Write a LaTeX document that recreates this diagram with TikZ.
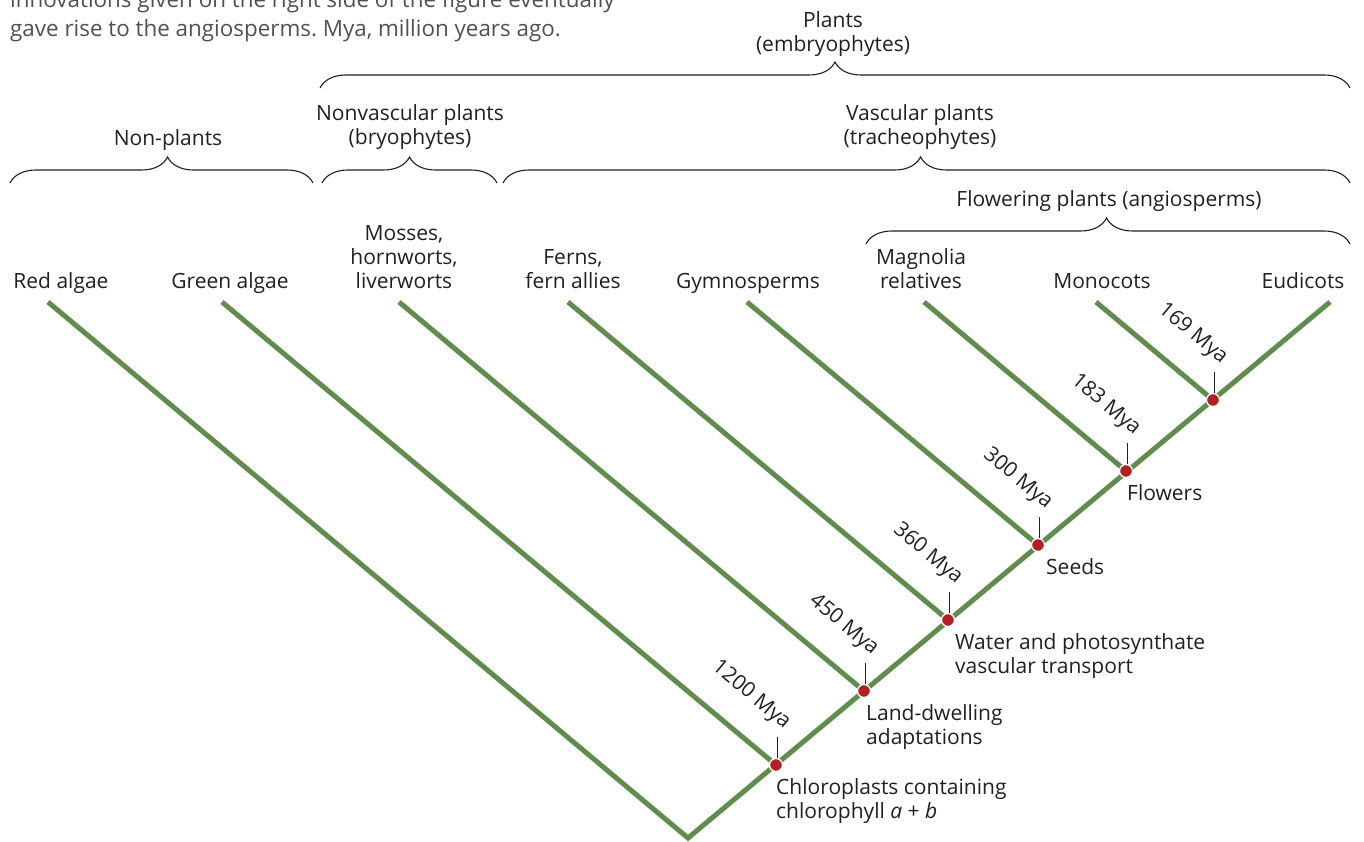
\documentclass[tikz,border=0pt]{standalone}
\usepackage{fontspec}
\setmainfont{Open Sans}
\usepackage{tikz}
\usetikzlibrary{positioning, calc, decorations.pathreplacing}
\definecolor{leafgreen}{RGB}{96,140,78}
\definecolor{seedred}{RGB}{178,32,38}
\definecolor{inkgray}{RGB}{35,31,32}
\definecolor{capgray}{RGB}{80,80,80}
\frenchspacing

\begin{document}
\begin{tikzpicture}[x=1pt, y=-1pt,
    branch/.style={draw=leafgreen, line width=5pt, line join=miter},
    event/.style={circle, fill=seedred, draw=white, line width=1.3pt, minimum size=13pt, inner sep=0pt},
    taxon/.style={anchor=base, align=center, text=inkgray, font=\fontsize{21}{24}\selectfont},
    group/.style={anchor=south, align=center, text=inkgray, font=\fontsize{21}{24}\selectfont},
    trait/.style={anchor=north west, align=left, text=inkgray, inner sep=0pt, font=\fontsize{21}{24}\selectfont},
    mya/.style={rotate=-39.9, anchor=south east, inner sep=1pt, text=inkgray, font=\fontsize{21}{24}\selectfont},
    caption/.style={anchor=base west, inner sep=0pt, text=capgray, font=\fontsize{22.4}{28}\selectfont},
    clade/.style={decorate, decoration={brace, amplitude=26pt}, draw=inkgray, line width=1.1pt},
    tick/.style={draw=inkgray, line width=1pt}
]
\useasboundingbox (0,0) rectangle (1364,842);

% Caption (cut off at the top)
\node[caption] (cap1) at (10,8) {innovations given on the right side of the figure eventually};
\node[caption] (cap2) at (10,37) {gave rise to the angiosperms. Mya, million years ago.};

% Group braces
\coordinate (plL) at (320,88);  \coordinate (plR) at (1350,88);
\coordinate (npL) at (10,183);  \coordinate (npR) at (313,183);
\coordinate (nvL) at (322,183); \coordinate (nvR) at (497,183);
\coordinate (vaL) at (503,183); \coordinate (vaR) at (1350,183);
\coordinate (flL) at (866,244); \coordinate (flR) at (1350,244);
\draw[clade] (plL) -- (plR);
\draw[clade, decoration={aspect=0.52}] (npL) -- (npR);
\draw[clade] (nvL) -- (nvR);
\draw[clade, decoration={aspect=0.493}] (vaL) -- (vaR);
\draw[clade, decoration={aspect=0.497}] (flL) -- (flR);

\node[group] (plants) at (833,60) {Plants\\(embryophytes)};
\node[group] (nonplants) at (168,154) {Non-plants};
\node[group] (nonvasc) at (410,153) {Nonvascular plants\\(bryophytes)};
\node[group] (vasc) at (920,153) {Vascular plants\\(tracheophytes)};
\node[group] (flowering) at (1109,215) {Flowering plants (angiosperms)};

% Tips
\node[taxon] (redalgae) at (61,288) {Red algae};
\node[taxon] (greenalgae) at (230,288) {Green algae};
\node[taxon] (mosses) at (404,288) {Mosses,\\hornworts,\\liverworts};
\node[taxon] (ferns) at (573,288) {Ferns,\\fern allies};
\node[taxon] (gymno) at (748,288) {Gymnosperms};
\node[taxon] (magnolia) at (921,288) {Magnolia\\relatives};
\node[taxon] (monocots) at (1102,288) {Monocots};
\node[taxon] (eudicots) at (1303,288) {Eudicots};

% Tree
\coordinate (root) at (688,838);
\coordinate (n1) at (776,765);
\coordinate (n2) at (864,691);
\coordinate (n3) at (948,620);
\coordinate (n4) at (1038,545);
\coordinate (n5) at (1126,471);
\coordinate (n6) at (1213,400);
\coordinate (t1) at (48,302);
\coordinate (t2) at (222,302);
\coordinate (t3) at (399,302);
\coordinate (t4) at (568,302);
\coordinate (t5) at (747,302);
\coordinate (t6) at (924,302);
\coordinate (t7) at (1096,302);
\coordinate (t8) at (1330,302);

\draw[branch] (t1) -- (root) -- (t8);
\draw[branch] (t2) -- (n1);
\draw[branch] (t3) -- (n2);
\draw[branch] (t4) -- (n3);
\draw[branch] (t5) -- (n4);
\draw[branch] (t6) -- (n5);
\draw[branch] (t7) -- (n6);

% Ticks and dates
\foreach \n/\age in {n1/1200, n2/450, n3/360, n4/300, n5/183, n6/169}{
  \coordinate (\n top) at ($(\n)+(1,-28)$);
  \draw[tick] ($(\n)+(1,-7)$) -- (\n top);
  \node[mya] (\n age) at ($(\n top)+(4,-2)$) {\age{} Mya};
}

% Events
\foreach \n in {n1, n2, n3, n4, n5, n6}
  \node[event] (\n dot) at (\n) {};

\node[trait] (chloro) at ($(n1)+(0,13)$) {Chloroplasts containing\\chlorophyll \emph{a} + \emph{b}};
\node[trait] (land) at ($(n2)+(2,13)$) {Land-dwelling\\adaptations};
\node[trait] (water) at ($(n3)+(7,13)$) {Water and photosynthate\\vascular transport};
\node[trait] (seeds) at ($(n4)+(8,13)$) {Seeds};
\node[trait] (flowers) at ($(n5)+(1,13)$) {Flowers};

\end{tikzpicture}
\end{document}
